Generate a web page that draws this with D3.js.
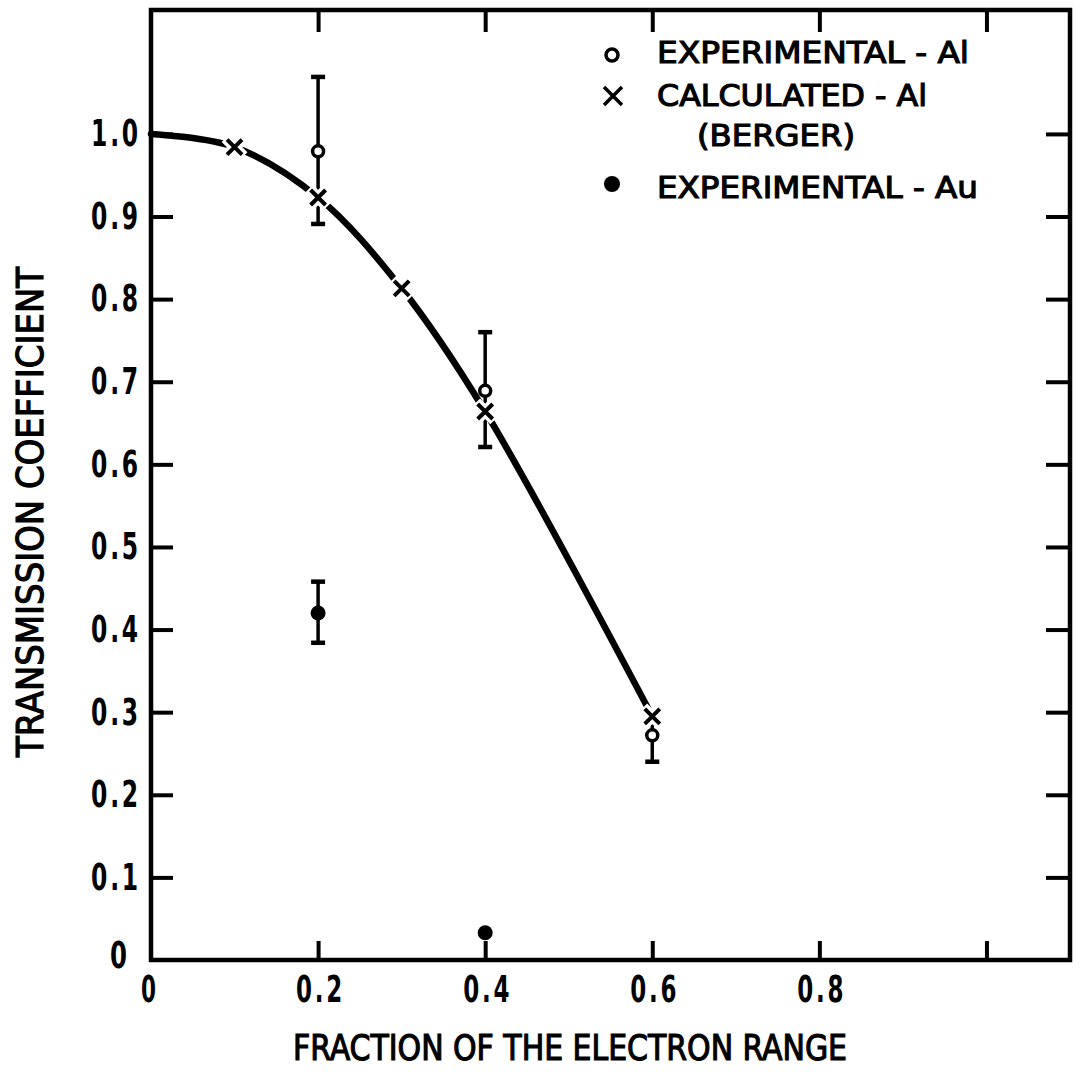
<!DOCTYPE html>
<html>
<head>
<meta charset="utf-8">
<script src="https://cdn.jsdelivr.net/npm/d3@7/dist/d3.min.js"></script>
<style>
  html, body { margin: 0; padding: 0; background: #fff; }
  svg { display: block; }
  text { font-family: "DejaVu Sans Condensed", "Liberation Sans Narrow", "DejaVu Sans", sans-serif; font-stretch: condensed; fill: #000; }
</style>
</head>
<body>
<svg id="chart" width="1079" height="1077"></svg>
<script>
// Calculated transmission for Al (Berger)
const calcX = [0.1, 0.2, 0.3, 0.4, 0.6];
const calcY = [0.984, 0.923, 0.813, 0.664, 0.295];
// Smooth curve through the calculated values, starting from full transmission
const curveX = [0, 0.1, 0.2, 0.3, 0.4, 0.6];
const curveY = [1.0, 0.984, 0.923, 0.813, 0.664, 0.295];

// Experimental Al: value, upper and lower error bounds
const alX = [0.2, 0.4, 0.6];
const alY = [0.979, 0.689, 0.272];
const alHi = [1.069, 0.760, 0.300];
const alLo = [0.891, 0.621, 0.240];

// Experimental Au
const auX = [0.2, 0.4];
const auY = [0.420, 0.033];
const auHi = [0.458, null];
const auLo = [0.384, null];

const xTicks = [0, 0.2, 0.4, 0.6, 0.8, 1.0];
const yTicks = [0, 0.1, 0.2, 0.3, 0.4, 0.5, 0.6, 0.7, 0.8, 0.9, 1.0];

const legendLabels = ["EXPERIMENTAL - Al", "CALCULATED - Al", "(BERGER)", "EXPERIMENTAL - Au"];

const svg = d3.select("#chart");
const x = d3.scaleLinear().domain([0, 1.1]).range([151, 1070]);
const y = d3.scaleLinear().domain([0, 1.15]).range([960, 10]);

const fmt = v => v === 0 ? "0" : d3.format(".1f")(v);

// Frame
svg.append("rect")
  .attr("x", x(0)).attr("y", y(1.15))
  .attr("width", x(1.1) - x(0)).attr("height", y(0) - y(1.15))
  .attr("fill", "none").attr("stroke", "#000").attr("stroke-width", 4.5);

// Bottom axis: ticks inward, labels below
const gB = svg.append("g").attr("transform", `translate(0,${y(0)})`)
  .call(d3.axisBottom(x).tickValues(xTicks).tickSizeInner(-19).tickSizeOuter(0).tickPadding(16)
    .tickFormat(v => v >= 1 ? "" : fmt(v)));
gB.select(".domain").remove();
gB.selectAll(".tick line").attr("stroke", "#000").attr("stroke-width", 4)
  .attr("display", d => d === 0 ? "none" : null);
gB.selectAll(".tick text").attr("font-size", 37).attr("font-weight", "bold")
  .attr("letter-spacing", d => d === 0 ? 0 : 4)
  .attr("dx", d => d === 0 ? -3 : 2)
  .attr("textLength", d => d === 0 ? 15 : 49).attr("lengthAdjust", "spacingAndGlyphs");

// Top axis: ticks inward, no labels
const gT = svg.append("g").attr("transform", `translate(0,${y(1.15)})`)
  .call(d3.axisTop(x).tickValues(xTicks.filter(v => v > 0)).tickSizeInner(-22).tickSizeOuter(0).tickFormat(""));
gT.select(".domain").remove();
gT.selectAll(".tick line").attr("stroke", "#000").attr("stroke-width", 4);

// Left axis: ticks inward, labels left
const gL = svg.append("g").attr("transform", `translate(${x(0)},0)`)
  .call(d3.axisLeft(y).tickValues(yTicks).tickSizeInner(-22).tickSizeOuter(0).tickPadding(10).tickFormat(fmt));
gL.select(".domain").remove();
gL.selectAll(".tick line").attr("stroke", "#000").attr("stroke-width", 4)
  .attr("display", d => d === 0 ? "none" : null);
gL.selectAll(".tick text").attr("font-size", 37).attr("font-weight", "bold")
  .attr("letter-spacing", d => d === 0 ? 0 : 4)
  .attr("dx", d => d === 0 ? -14 : 0).attr("dy", d => d === 0 ? "0.2em" : "0.32em")
  .attr("textLength", d => d === 0 ? 17 : 50).attr("lengthAdjust", "spacingAndGlyphs");

// Right axis: ticks inward, no labels
const gR = svg.append("g").attr("transform", `translate(${x(1.1)},0)`)
  .call(d3.axisRight(y).tickValues(yTicks.filter(v => v > 0)).tickSizeInner(-24).tickSizeOuter(0).tickFormat(""));
gR.select(".domain").remove();
gR.selectAll(".tick line").attr("stroke", "#000").attr("stroke-width", 4);

// Axis titles
svg.append("text")
  .attr("x", 570).attr("y", 1060)
  .attr("text-anchor", "middle").attr("font-size", 35)
  .attr("textLength", 554).attr("lengthAdjust", "spacingAndGlyphs")
  .attr("stroke", "#000").attr("stroke-width", 1.1)
  .text("FRACTION OF THE ELECTRON RANGE");

svg.append("text")
  .attr("transform", "translate(43,512) rotate(-90)")
  .attr("text-anchor", "middle").attr("font-size", 37)
  .attr("textLength", 490).attr("lengthAdjust", "spacingAndGlyphs")
  .attr("stroke", "#000").attr("stroke-width", 1.1)
  .text("TRANSMISSION COEFFICIENT");

// Calculated curve
const line = d3.line().x(d => x(d[0])).y(d => y(d[1])).curve(d3.curveCatmullRom.alpha(0.5));
svg.append("path")
  .datum(d3.zip(curveX, curveY))
  .attr("d", line)
  .attr("fill", "none").attr("stroke", "#000").attr("stroke-width", 6.5).attr("stroke-linecap", "round");

// Error bars
function errorBars(xs, his, los) {
  const data = xs.map((v, i) => ({ x: v, hi: his[i], lo: los[i] })).filter(d => d.hi !== null);
  const g = svg.append("g").attr("stroke", "#000").attr("stroke-width", 3.5);
  g.selectAll("line.v").data(data).join("line").attr("class", "v")
    .attr("x1", d => x(d.x)).attr("x2", d => x(d.x))
    .attr("y1", d => y(d.hi)).attr("y2", d => y(d.lo));
  g.selectAll("line.cap").data(data.flatMap(d => [[d.x, d.hi], [d.x, d.lo]])).join("line").attr("class", "cap")
    .attr("stroke-width", 4.5)
    .attr("x1", d => x(d[0]) - 7).attr("x2", d => x(d[0]) + 7)
    .attr("y1", d => y(d[1])).attr("y2", d => y(d[1]));
}
errorBars(alX, alHi, alLo);
errorBars(auX, auHi, auLo);

// Cross marker path
const cross = s => `M${-s},${-s}L${s},${s}M${s},${-s}L${-s},${s}`;

// Calculated points: a white halo breaks the curve around each cross
const calcPts = d3.zip(calcX, calcY);
svg.append("g").selectAll("path").data(calcPts).join("path")
  .attr("transform", d => `translate(${x(d[0])},${y(d[1])})`)
  .attr("d", cross(9)).attr("stroke", "#fff").attr("stroke-width", 11).attr("fill", "none");
svg.append("g").selectAll("path").data(calcPts).join("path")
  .attr("transform", d => `translate(${x(d[0])},${y(d[1])})`)
  .attr("d", cross(7.5)).attr("stroke", "#000").attr("stroke-width", 4).attr("fill", "none");

// Experimental Al: open circles
svg.append("g").selectAll("circle").data(d3.zip(alX, alY)).join("circle")
  .attr("cx", d => x(d[0])).attr("cy", d => y(d[1])).attr("r", 5.5)
  .attr("fill", "#fff").attr("stroke", "#000").attr("stroke-width", 3.5);

// Experimental Au: filled dots
svg.append("g").selectAll("circle").data(d3.zip(auX, auY)).join("circle")
  .attr("cx", d => x(d[0])).attr("cy", d => y(d[1])).attr("r", 7.5)
  .attr("fill", "#000");

// Legend
const lg = svg.append("g");
lg.append("circle").attr("cx", 612).attr("cy", 55).attr("r", 6)
  .attr("fill", "#fff").attr("stroke", "#000").attr("stroke-width", 3.5);
lg.append("path").attr("transform", "translate(613,96)").attr("d", cross(9))
  .attr("stroke", "#000").attr("stroke-width", 3.5).attr("fill", "none");
lg.append("circle").attr("cx", 612).attr("cy", 184).attr("r", 8).attr("fill", "#000");

const legendPos = [[657, 63, 312], [657, 106, 270], [697, 146, 158], [657, 198, 321]];
lg.selectAll("text").data(legendLabels).join("text")
  .attr("x", (d, i) => legendPos[i][0]).attr("y", (d, i) => legendPos[i][1])
  .attr("textLength", (d, i) => legendPos[i][2]).attr("lengthAdjust", "spacingAndGlyphs")
  .attr("font-size", 31)
  .attr("stroke", "#000").attr("stroke-width", 1.1)
  .text(d => d);
</script>
</body>
</html>
